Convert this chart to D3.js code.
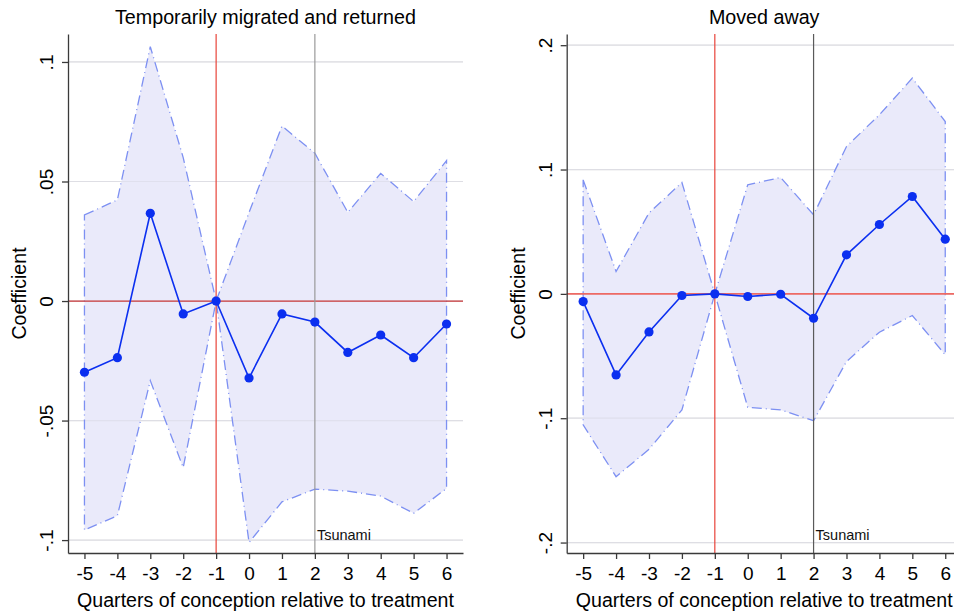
<!DOCTYPE html>
<html>
<head>
<meta charset="utf-8">
<script src="https://cdn.jsdelivr.net/npm/d3@7"></script>
<style>
  body { margin: 0; background: #fff; }
  svg { display: block; font-family: "Liberation Sans", Arial, Helvetica, sans-serif; }
</style>
</head>
<body>
<div id="chart"></div>
<script>
// Quarters relative to treatment
const quarters = [-5, -4, -3, -2, -1, 0, 1, 2, 3, 4, 5, 6];

// Panel 1: temporarily migrated and returned
const returnedCoef  = [-0.0298, -0.0237, 0.0367, -0.0054, 0, -0.0322, -0.0054, -0.0088, -0.0215, -0.0142, -0.0237, -0.0096];
const returnedUpper = [0.0360, 0.0423, 0.1064, 0.0600, 0, 0.0370, 0.0732, 0.0618, 0.0371, 0.0534, 0.0416, 0.0587];
const returnedLower = [-0.0958, -0.0898, -0.0333, -0.0697, 0, -0.1010, -0.0840, -0.0787, -0.0795, -0.0816, -0.0888, -0.0784];
const returnedTicks = [-0.1, -0.05, 0, 0.05, 0.1];
const returnedTickLabels = ["-.1", "-.05", "0", ".05", ".1"];

// Panel 2: moved away
const movedCoef  = [-0.0062, -0.0652, -0.0306, -0.0013, 0, -0.0021, -0.0003, -0.0196, 0.0314, 0.0558, 0.0783, 0.0440];
const movedUpper = [0.0917, 0.0180, 0.0650, 0.0896, 0, 0.0877, 0.0936, 0.0636, 0.1185, 0.1440, 0.1735, 0.1386];
const movedLower = [-0.1054, -0.1470, -0.1250, -0.0933, 0, -0.0912, -0.0933, -0.1020, -0.0544, -0.0308, -0.0174, -0.0490];
const movedTicks = [-0.2, -0.1, 0, 0.1, 0.2];
const movedTickLabels = ["-.2", "-.1", "0", ".1", ".2"];

const treatQuarter = -1;
const tsunamiQuarter = 2;

const width = 954;
const height = 616;
const plotTop = 34;
const plotBottom = 553;
const plotWidth = 395;

const svg = d3.select("#chart")
    .append("svg")
    .attr("width", width)
    .attr("height", height);

function panel(opts) {
    const g = svg.append("g");
    const left = opts.left;
    const right = left + plotWidth;

    const x = d3.scaleLinear().domain([-5.5, 6.5]).range([left, right]);
    const y = d3.scaleLinear().domain(opts.yDomain).range([plotBottom, plotTop]);

    const rows = quarters.map((q, i) => ({ q, coef: opts.coef[i], lo: opts.lower[i], hi: opts.upper[i] }));

    // gridlines
    g.append("g")
        .selectAll("line")
        .data(opts.ticks)
        .join("line")
        .attr("x1", left).attr("x2", right)
        .attr("y1", d => y(d)).attr("y2", d => y(d))
        .style("stroke", "#e4e4e4")
        .style("stroke-width", 1.2);

    // confidence band
    const band = d3.area()
        .x(d => x(d.q))
        .y0(d => y(d.lo))
        .y1(d => y(d.hi));

    g.append("path")
        .datum(rows)
        .attr("d", band)
        .style("fill", "#e8e8fa")
        .style("fill-opacity", 0.9);

    // gridlines showing through the band
    g.append("g")
        .selectAll("line")
        .data(opts.ticks)
        .join("line")
        .attr("x1", left).attr("x2", right)
        .attr("y1", d => y(d)).attr("y2", d => y(d))
        .style("stroke", "#d8d8e4")
        .style("stroke-opacity", 0.5)
        .style("stroke-width", 1.2);

    // band outline, dash-dot
    const outline = rows.map(d => [x(d.q), y(d.hi)])
        .concat(rows.slice().reverse().map(d => [x(d.q), y(d.lo)]));
    g.append("path")
        .attr("d", d3.line()(outline) + "Z")
        .style("fill", "none")
        .style("stroke", "#7d90f2")
        .style("stroke-width", 1.3)
        .style("stroke-dasharray", "10,4,1,4");

    // reference lines
    g.append("line")
        .attr("x1", left).attr("x2", right)
        .attr("y1", y(0)).attr("y2", y(0))
        .style("stroke", opts.zeroColor)
        .style("stroke-width", opts.zeroWidth);

    g.append("line")
        .attr("x1", x(treatQuarter)).attr("x2", x(treatQuarter))
        .attr("y1", plotTop).attr("y2", plotBottom)
        .style("stroke", "#e8443a")
        .style("stroke-width", 1.2);

    g.append("line")
        .attr("x1", x(tsunamiQuarter)).attr("x2", x(tsunamiQuarter))
        .attr("y1", plotTop).attr("y2", plotBottom)
        .style("stroke", opts.tsunamiColor)
        .style("stroke-width", 1.2);

    g.append("text")
        .attr("x", x(tsunamiQuarter) + 2)
        .attr("y", 539.5)
        .style("font-size", "14.5px")
        .style("fill", "#111")
        .text("Tsunami");

    // coefficient line and points
    g.append("path")
        .datum(rows)
        .attr("d", d3.line().x(d => x(d.q)).y(d => y(d.coef)))
        .style("fill", "none")
        .style("stroke", "#0b2ff0")
        .style("stroke-width", 1.6);

    g.append("g")
        .selectAll("circle")
        .data(rows)
        .join("circle")
        .attr("cx", d => x(d.q))
        .attr("cy", d => y(d.coef))
        .attr("r", 4.6)
        .style("fill", "#0b2ff0");

    // axes
    const yAxis = d3.axisLeft(y)
        .tickValues(opts.ticks)
        .tickFormat((d, i) => opts.tickLabels[i])
        .tickSize(6)
        .tickSizeOuter(0);

    const yg = g.append("g")
        .attr("transform", `translate(${left},0)`)
        .call(yAxis);
    yg.selectAll("text")
        .attr("x", 0)
        .attr("dy", 0)
        .attr("text-anchor", "middle")
        .attr("transform", "translate(-15,0) rotate(-90)")
        .style("font-size", "19px")
        .style("fill", "#000");

    const xAxis = d3.axisBottom(x)
        .tickValues(quarters)
        .tickFormat(d => String(d))
        .tickSize(6)
        .tickSizeOuter(0)
        .tickPadding(8);

    const xg = g.append("g")
        .attr("transform", `translate(0,${plotBottom})`)
        .call(xAxis);
    xg.selectAll("text")
        .style("font-size", "19px")
        .style("fill", "#000");

    g.selectAll(".domain, .tick line")
        .style("stroke", "#3a3a3a")
        .style("stroke-width", 1.3);

    // titles
    g.append("text")
        .attr("x", (left + right) / 2)
        .attr("y", 24)
        .attr("text-anchor", "middle")
        .style("font-size", "19.7px")
        .text(opts.title);

    g.append("text")
        .attr("x", (left + right) / 2)
        .attr("y", 607)
        .attr("text-anchor", "middle")
        .style("font-size", "19.6px")
        .text("Quarters of conception relative to treatment");

    g.append("text")
        .attr("transform", `translate(${left - 42},${(plotTop + plotBottom) / 2}) rotate(-90)`)
        .attr("text-anchor", "middle")
        .style("font-size", "19.6px")
        .text("Coefficient");
}

panel({
    left: 68,
    yDomain: [-0.1054, 0.1117],
    coef: returnedCoef,
    upper: returnedUpper,
    lower: returnedLower,
    ticks: returnedTicks,
    tickLabels: returnedTickLabels,
    title: "Temporarily migrated and returned",
    zeroColor: "#c8393a",
    zeroWidth: 1.2,
    tsunamiColor: "#9a9a9a"
});

panel({
    left: 566.7,
    yDomain: [-0.2084, 0.209],
    coef: movedCoef,
    upper: movedUpper,
    lower: movedLower,
    ticks: movedTicks,
    tickLabels: movedTickLabels,
    title: "Moved away",
    zeroColor: "#ee6a64",
    zeroWidth: 1.6,
    tsunamiColor: "#5a5a5a"
});
</script>
</body>
</html>
